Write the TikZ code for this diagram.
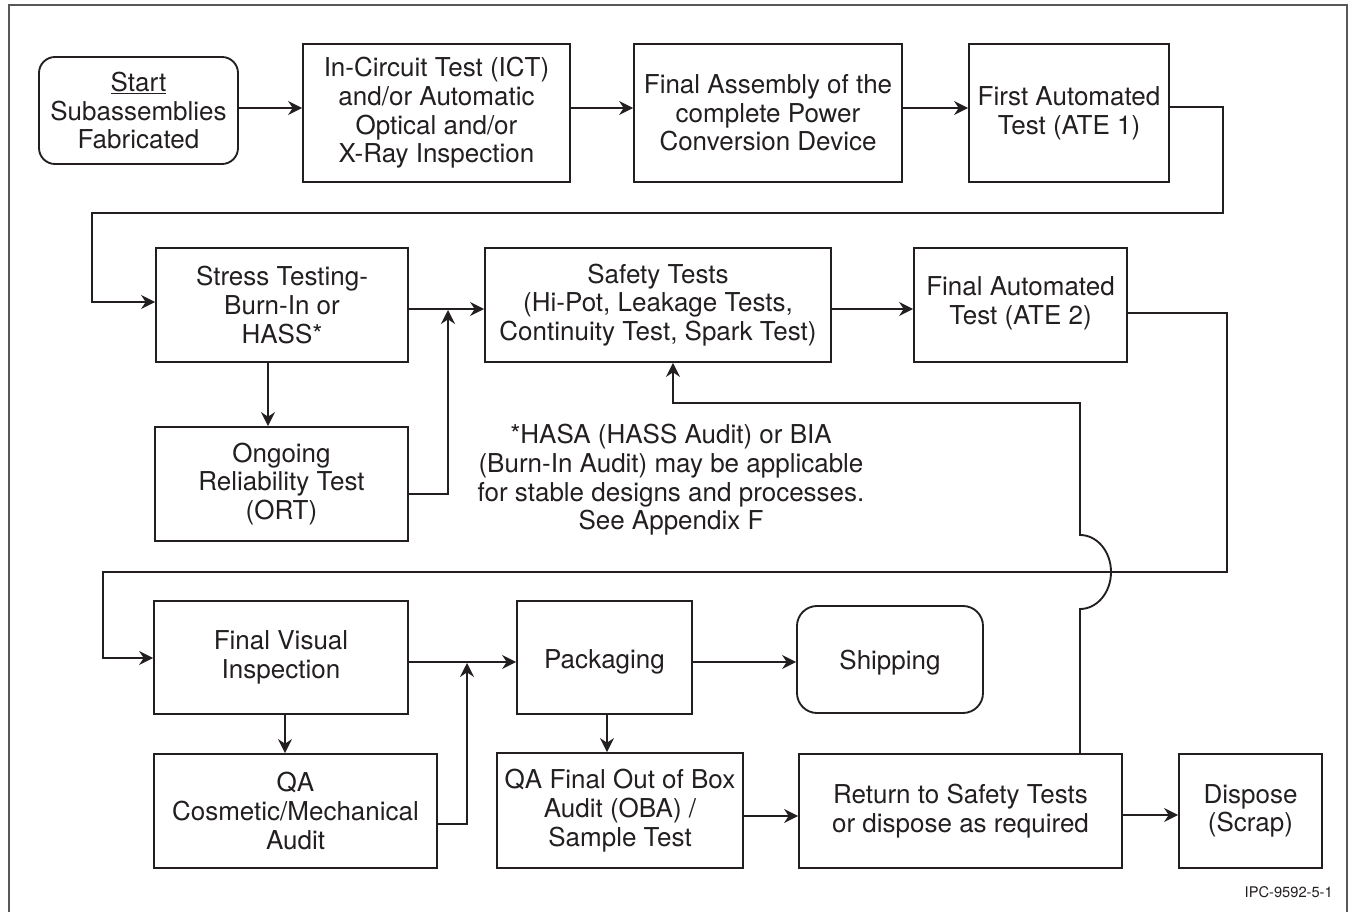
\documentclass[tikz,border=0pt]{standalone}
\usepackage{fontspec}
\setmainfont{TeX Gyre Heros}
\usetikzlibrary{arrows.meta}
\definecolor{ink}{HTML}{231F20}
\begin{document}
\begin{tikzpicture}[x=0.75pt,y=-0.75pt,
  every node/.style={text=ink},
  box/.style={draw=ink, line width=1.4pt, align=center, inner sep=0pt,
    font=\fontsize{19.5}{21.5}\selectfont},
  rbox/.style={box, rounded corners=12pt},
  sz/.style 2 args={minimum width=#1*0.75pt, minimum height=#2*0.75pt},
  conn/.style={draw=ink, line width=1.4pt},
  arr/.style={conn, -{Stealth[length=10.5pt,width=10.5pt,inset=3.5pt]}},
  note/.style={align=center, font=\fontsize{19.5}{21.5}\selectfont}
]
\useasboundingbox (0,0) rectangle (1353,912);
\draw[line width=1.1pt, draw=ink!75] (9,916) -- (9,5) -- (1347,5) -- (1347,916);

% row 1
\node[rbox, sz={199}{107}] (start) at (138.5,110.5) {\underline{Start}\\Subassemblies\\Fabricated};
\node[box, sz={267}{138}] (ict) at (436.5,113) {In-Circuit Test (ICT)\\and/or Automatic\\Optical and/or\\X-Ray Inspection};
\node[box, sz={268}{138}] (fa) at (768,113) {Final Assembly of the\\complete Power\\Conversion Device};
\node[box, sz={200}{138}] (ate1) at (1069,113) {First Automated\\Test (ATE 1)};

% row 2
\node[box, sz={252}{114}] (stress) at (282,305) {Stress Testing-\\Burn-In or\\HASS*};
\node[box, sz={346}{114}] (safety) at (658,305) {Safety Tests\\(Hi-Pot, Leakage Tests,\\Continuity Test, Spark Test)};
\node[box, sz={213}{114}] (ate2) at (1020.5,305) {Final Automated\\Test (ATE 2)\rule[-7pt]{0pt}{0pt}};
\node[box, sz={253}{114}] (ort) at (281.5,484) {Ongoing\\Reliability Test\\(ORT)};
\node[note] (fn) at (671,480) {*HASA (HASS Audit) or BIA\\(Burn-In Audit) may be applicable\\for stable designs and processes.\\See Appendix F};

% row 3
\node[box, sz={254}{113}] (fvi) at (281,657.5) {Final Visual\\Inspection};
\node[box, sz={283}{114}] (qa) at (295.5,811) {QA\\Cosmetic/Mechanical\\Audit};
\node[box, sz={175}{113}] (pack) at (604.5,657.5) {\rule{0pt}{21pt}Packaging};
\node[rbox, rounded corners=15pt, sz={186}{107}] (ship) at (890,659.5) {\rule{0pt}{19pt}Shipping};
\node[box, sz={246}{115}] (oba) at (620,810.5) {QA Final Out of Box\\Audit (OBA) /\\Sample Test};
\node[box, sz={323}{114}] (ret) at (960.5,811) {Return to Safety Tests\\or dispose as required};
\node[box, sz={143}{114}] (disp) at (1250.5,811) {Dispose\\(Scrap)};

\node[anchor=east, inner sep=0pt, font=\fontsize{11}{13}\selectfont] (ipc) at (1333,892) {IPC-9592-5-1};

% connectors row 1
\draw[arr] (start.east |- 0,108) -- (ict.west |- 0,108);
\draw[arr] (ict.east |- 0,108) -- (fa.west |- 0,108);
\draw[arr] (fa.east |- 0,108) -- (ate1.west |- 0,108);
\draw[arr] (ate1.east |- 0,107) -- (1223,107) -- (1223,213) -- (92,213) -- (92,302) -- (stress.west |- 0,302);

% row 2
\draw[arr] (stress.east |- 0,309) -- (safety.west |- 0,309);
\draw[arr] (stress.south -| 268,0) -- (ort.north -| 268,0);
\draw[arr] (ort.east |- 0,494) -- (448,494) -- (448,310);
\draw[arr] (safety.east |- 0,309) -- (ate2.west |- 0,309);
\draw[arr] (ate2.east |- 0,313) -- (1227,313) -- (1227,572) -- (103,572) -- (103,658) -- (fvi.west |- 0,658);

% row 3
\draw[arr] (fvi.east |- 0,662) -- (pack.west |- 0,662);
\draw[arr] (fvi.south -| 285,0) -- (qa.north -| 285,0);
\draw[arr] (qa.east |- 0,824) -- (467,824) -- (467,663);
\draw[arr] (pack.east |- 0,662) -- (ship.west |- 0,662);
\draw[arr] (pack.south -| 607,0) -- (oba.north -| 607,0);
\draw[arr] (oba.east |- 0,816) -- (ret.west |- 0,816);
\draw[arr] (ret.east |- 0,815) -- (disp.west |- 0,815);

% return loop with hop
\draw[arr] (ret.north -| 1080,0) -- (1080,609)
  arc[start angle=-90, end angle=90, x radius=23.25pt, y radius=27.75pt]
  -- (1080,403) -- (673,403) -- (safety.south -| 673,0);
\end{tikzpicture}
\end{document}
